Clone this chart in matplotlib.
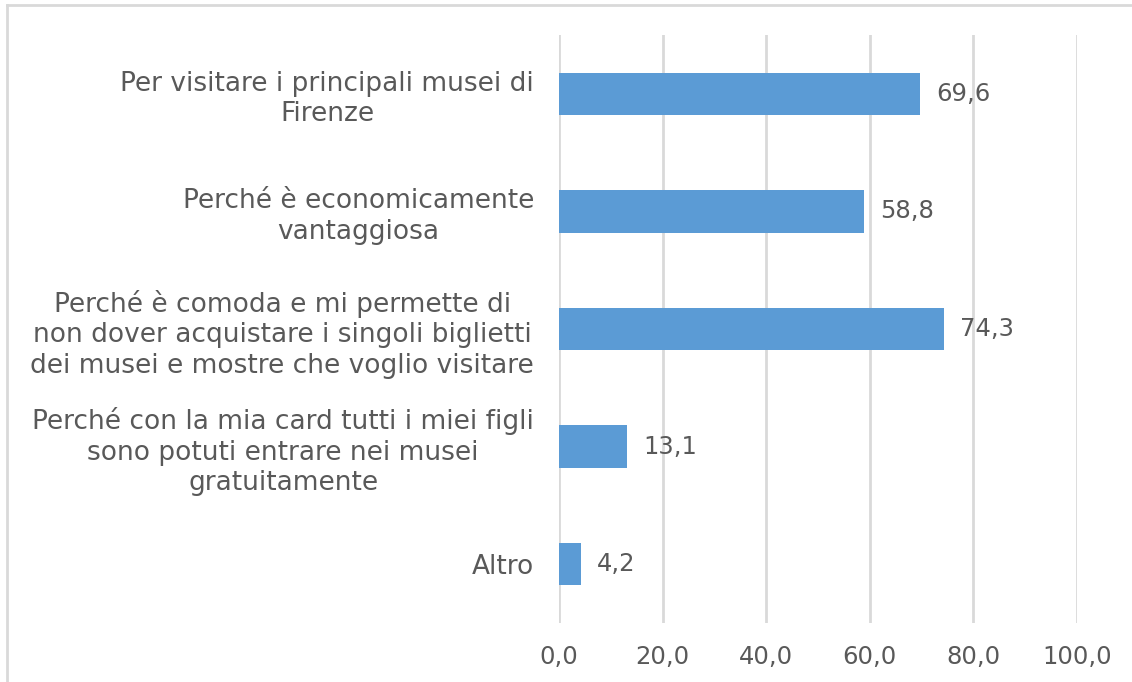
import matplotlib
matplotlib.use("Agg")
import matplotlib.pyplot as plt
from matplotlib.lines import Line2D

# data
categories = [
    "Per visitare i principali musei di\nFirenze",
    "Perché è economicamente\nvantaggiosa",
    "Perché è comoda e mi permette di\nnon dover acquistare i singoli biglietti\ndei musei e mostre che voglio visitare",
    "Perché con la mia card tutti i miei figli\nsono potuti entrare nei musei\ngratuitamente",
    "Altro",
]
values = [69.6, 58.8, 74.3, 13.1, 4.2]
xticks = [0, 20, 40, 60, 80, 100]

BAR = "#5B9BD5"
GRID = "#D9D9D9"
TXT = "#595959"

plt.rcParams["font.family"] = ["DejaVu Sans"]

fig = plt.figure(figsize=(11.32, 6.82), dpi=100)
ax = fig.add_axes([559 / 1132, 1 - 623 / 682, (1077 - 559) / 1132, (623 - 35) / 682])

pos = list(range(len(categories)))[::-1]
ax.barh(pos, values, height=0.36, color=BAR, zorder=3)
for y, v in zip(pos, values):
    ax.text(v + 3.2, y, f"{v:.1f}".replace(".", ","), va="center", ha="left",
            fontsize=17.5, color=TXT)

ax.set_xlim(0, 100)
ax.set_ylim(-0.5, len(categories) - 0.5)
ax.set_xticks(xticks)
ax.set_xticklabels([f"{t:.1f}".replace(".", ",") for t in xticks], fontsize=17.5, color=TXT)
ax.set_yticks(pos)
ax.set_yticklabels(categories, fontsize=19, color=TXT, multialignment="center",
                   linespacing=1.23)
ax.tick_params(axis="y", length=0, pad=18)
ax.tick_params(axis="x", length=0, pad=16)
ax.xaxis.grid(True, color=GRID, linewidth=2, zorder=0)
for s in ax.spines.values():
    s.set_visible(False)

# outer chart frame (top and left edges visible)
fig.add_artist(Line2D([7 / 1132, 1.0], [1 - 5 / 682, 1 - 5 / 682], color=GRID, linewidth=2))
fig.add_artist(Line2D([7 / 1132, 7 / 1132], [0, 1 - 5 / 682], color=GRID, linewidth=2))

fig.savefig("out.png", dpi=100)
